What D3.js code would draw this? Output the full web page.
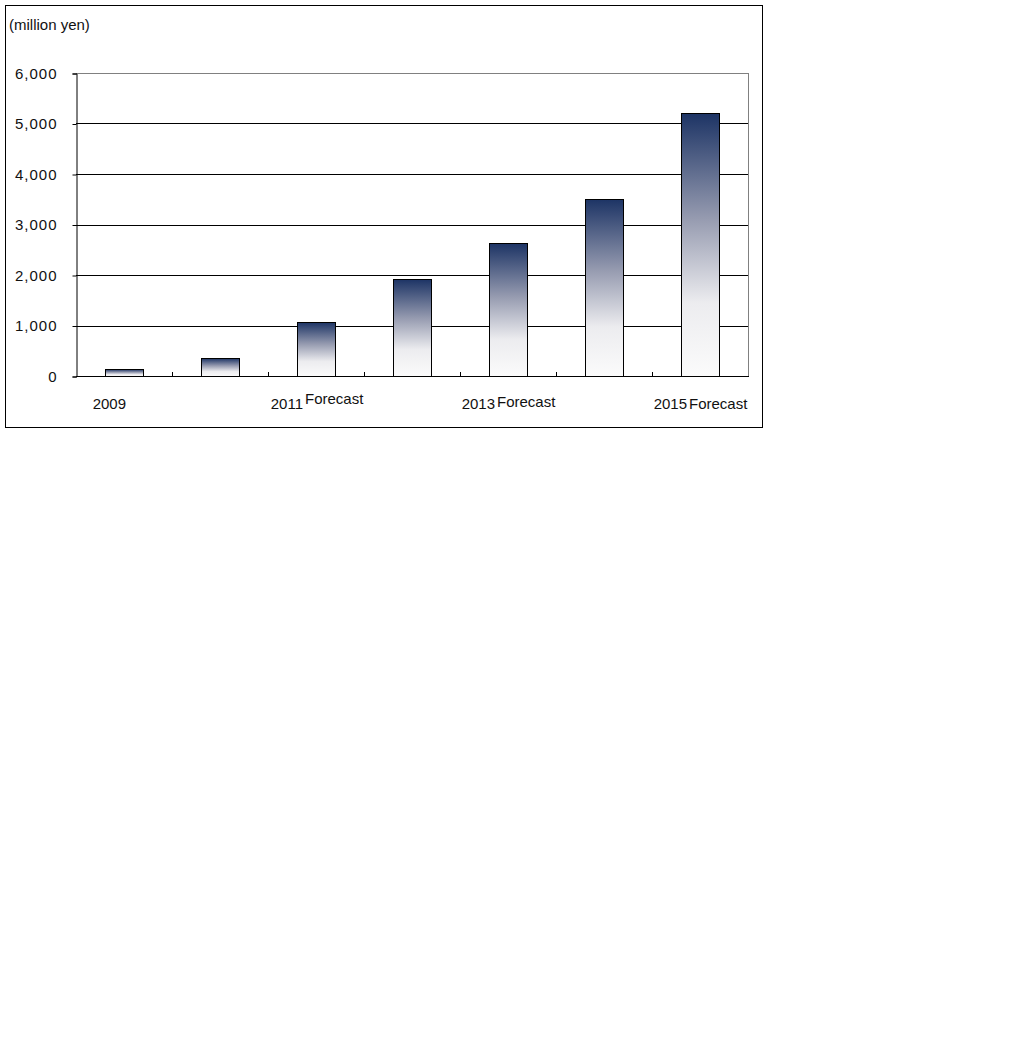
<!DOCTYPE html>
<html><head><meta charset="utf-8">
<script src="https://cdn.jsdelivr.net/npm/d3@7"></script>
<style>body{margin:0;background:#fff}svg{display:block}text{font-family:"Liberation Sans",Arial,sans-serif;fill:#111}</style>
</head><body><svg id="c" width="1028" height="1046"></svg>
<script>
const categories = ["2009","2010","2011","2012","2013","2014","2015"];
const suffixes = ["","","Forecast","","Forecast","","Forecast"];
const shownLabels = [true,false,true,false,true,false,true];
const values = [140,350,1060,1920,2630,3500,5200];
const yTicks = [0,1000,2000,3000,4000,5000,6000];
const unitLabel = "(million yen)";

const svg = d3.select("#c");
const m = {l:76, r:748, t:73, b:376};
svg.append("rect").attr("x",5.5).attr("y",5.5).attr("width",757).attr("height",422)
  .attr("fill","none").attr("stroke","#000");

const x = d3.scaleBand().domain(categories).range([m.l,m.r]).paddingInner(0.6).paddingOuter(0.3);
const y = d3.scaleLinear().domain([0,6000]).range([m.b,m.t]);

const defs = svg.append("defs");
const g = defs.append("linearGradient").attr("id","grad").attr("x1",0).attr("y1",0).attr("x2",0).attr("y2",1);
[[0,"#1d3465"],[0.4,"#969bb0"],[0.72,"#ececef"],[1,"#fbfbfb"]].forEach(s=>g.append("stop").attr("offset",s[0]).attr("stop-color",s[1]));

// gridlines
svg.append("g").selectAll("line").data(yTicks.filter(d=>d>0)).join("line")
  .attr("x1",m.l).attr("x2",m.r).attr("y1",d=>Math.round(y(d))+0.5).attr("y2",d=>Math.round(y(d))+0.5)
  .attr("stroke",d=>d===6000?"#808080":"#000");
svg.append("line").attr("x1",m.r+0.5).attr("x2",m.r+0.5).attr("y1",m.t).attr("y2",m.b).attr("stroke","#808080");

// bars
svg.append("g").selectAll("rect").data(values).join("rect")
  .attr("x",(d,i)=>Math.round(x(categories[i]))+0.5)
  .attr("y",d=>Math.round(y(d))+0.5)
  .attr("width",Math.round(x.bandwidth()))
  .attr("height",d=>Math.round(y(0))-Math.round(y(d)))
  .attr("fill","url(#grad)").attr("stroke","#000");

// y axis
const ya = svg.append("g").attr("transform",`translate(${m.l+0.5},0.5)`)
  .call(d3.axisLeft(y).tickValues(yTicks).tickSize(4).tickPadding(15).tickFormat(d3.format(",")));
ya.select(".domain").attr("stroke","#000");
ya.selectAll("text").attr("font-size",15).attr("fill","#111").attr("letter-spacing",1).style("font-family","Liberation Sans, Arial");

// x axis baseline and ticks at band boundaries
svg.append("line").attr("x1",m.l).attr("x2",m.r+1).attr("y1",m.b+0.5).attr("y2",m.b+0.5).attr("stroke","#000");
const bounds = d3.range(1,categories.length).map(i=>m.l+i*(m.r-m.l)/categories.length);
svg.append("g").selectAll("line").data(bounds).join("line")
  .attr("x1",d=>Math.round(d)+0.5).attr("x2",d=>Math.round(d)+0.5).attr("y1",m.b).attr("y2",m.b-4).attr("stroke","#000");

// x labels
const lab = svg.append("g");
categories.forEach((c,i)=>{
  if(!shownLabels[i]) return;
  const cx = x(c)+x.bandwidth()/2;
  if(suffixes[i]){
    lab.append("text").attr("x",cx-13).attr("y",409).attr("text-anchor","end").attr("font-size",15).text(c);
    lab.append("text").attr("x",cx-11).attr("y",i===2?404:i===4?407:409).attr("text-anchor","start").attr("font-size",15).text(suffixes[i]);
  } else {
    lab.append("text").attr("x",cx+2).attr("y",409).attr("text-anchor","end").attr("font-size",15).text(c);
  }
});

svg.append("text").attr("x",9).attr("y",30).attr("font-size",15).text(unitLabel);
</script></body></html>
